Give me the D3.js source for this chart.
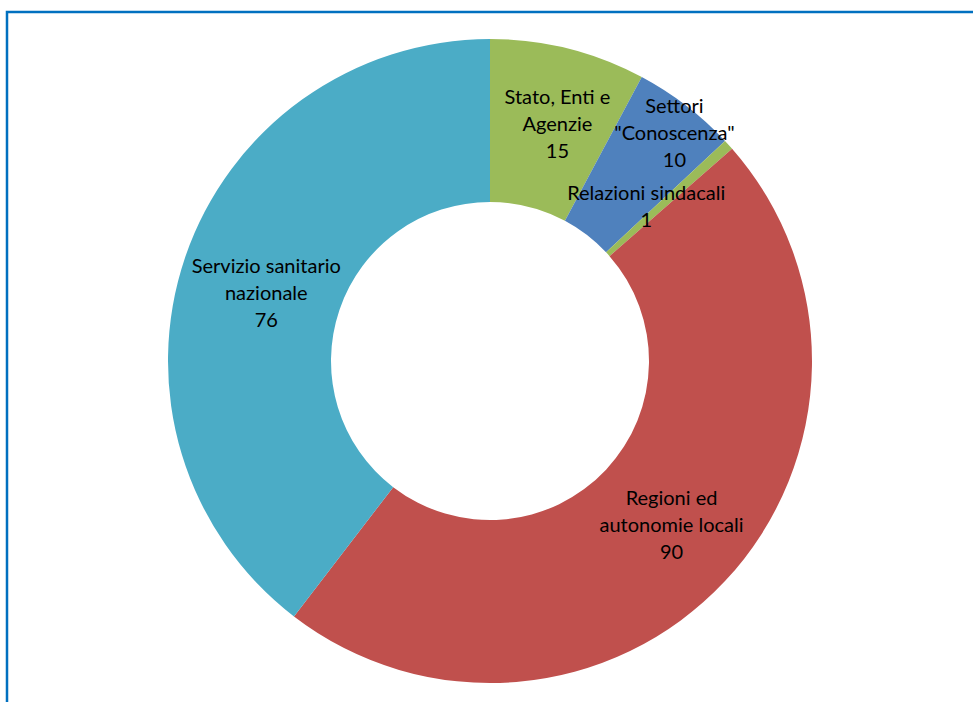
<!DOCTYPE html>
<html>
<head>
<meta charset="utf-8">
<script src="https://cdn.jsdelivr.net/npm/d3@7"></script>
<style>
  body { margin: 0; background: #fff; }
  svg { display: block; }
</style>
</head>
<body>
<svg width="973" height="702"></svg>
<script>
// dati
var categories = ["Stato, Enti e Agenzie", "Settori \"Conoscenza\"", "Relazioni sindacali", "Regioni ed autonomie locali", "Servizio sanitario nazionale"];
var values = [15, 10, 1, 90, 76];
var labelLines = [
    ["Stato, Enti e", "Agenzie"],
    ["Settori", "\"Conoscenza\""],
    ["Relazioni sindacali"],
    ["Regioni ed", "autonomie locali"],
    ["Servizio sanitario", "nazionale"]
];
var colors = ["#9BBB59", "#4F81BD", "#9BBB59", "#C0504D", "#4BACC6"];
// spostamenti manuali delle etichette (come in Excel)
var labelShift = [[9, -4], [38, -37], [-22, 7], [6, 0], [4, 9]];

var svg = d3.select("svg");

svg.append("rect")
    .attr("x", 7).attr("y", 12)
    .attr("width", 1100).attr("height", 1100)
    .attr("fill", "none")
    .attr("stroke", "#0070C0")
    .attr("stroke-width", 2.5);

var cx = 490, cy = 361, rOut = 322, rIn = 159;

var pie = d3.pie().sort(null).value(function(d){ return d; });
var arc = d3.arc().innerRadius(rIn).outerRadius(rOut);
var labelArc = d3.arc().innerRadius((rIn + rOut) / 2).outerRadius((rIn + rOut) / 2);

var g = svg.append("g").attr("transform", "translate(" + cx + "," + cy + ")");
var arcs = pie(values);

g.selectAll("path").data(arcs).enter().append("path")
    .attr("d", arc)
    .attr("fill", function(d, i){ return colors[i]; });

var lineH = 27;
var labels = g.selectAll("text").data(arcs).enter().append("text")
    .attr("text-anchor", "middle")
    .attr("font-family", "Lato, 'Open Sans', sans-serif")
    .attr("font-size", "20px")
    .attr("fill", "#000")
    .attr("transform", function(d, i){
        var c = labelArc.centroid(d);
        return "translate(" + (c[0] + labelShift[i][0]) + "," + (c[1] + labelShift[i][1]) + ")";
    });

labels.each(function(d, i){
    var lines = labelLines[i].concat([String(values[i])]);
    var t = d3.select(this);
    var top = -(lines.length - 1) * lineH / 2;
    lines.forEach(function(s, k){
        t.append("tspan")
            .attr("x", 0)
            .attr("y", top + k * lineH)
            .attr("dy", "0.35em")
            .text(s);
    });
});
</script>
</body>
</html>
